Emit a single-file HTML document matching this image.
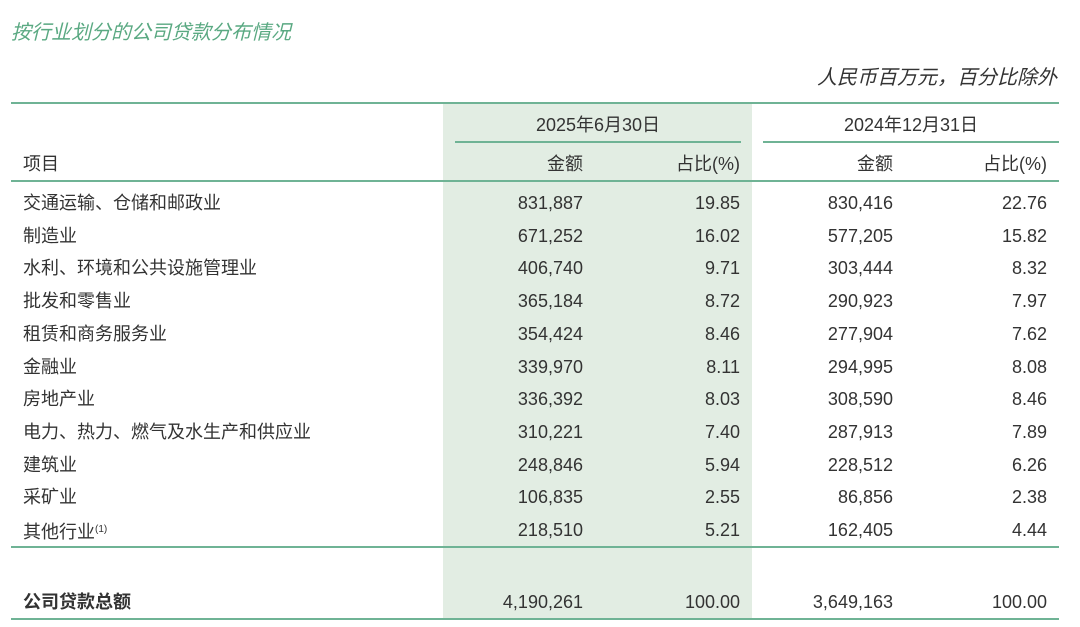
<!DOCTYPE html>
<html><head><meta charset="utf-8"><style>
body{margin:0;width:1080px;height:627px;background:#fff;position:relative;overflow:hidden;font-family:"Liberation Sans","Noto Sans CJK SC",sans-serif;color:#333;}
.a{position:absolute;white-space:nowrap;font-size:18px;line-height:20px;}
.r{text-align:right;}
.ln{position:absolute;height:2px;background:#6fb395;}
</style></head><body>
<div class="a" style="left:11px;top:22px;color:#5aa982;font-style:italic;font-size:20px;line-height:22px;">按行业划分的公司贷款分布情况</div>
<div class="a r" style="right:23px;top:67px;font-style:italic;font-size:20px;line-height:22px;">人民币百万元，百分比除外</div>
<div style="position:absolute;left:443px;top:104px;width:309px;height:516px;background:#e2ede3;"></div>
<div class="ln" style="left:11px;top:102px;width:1048px;"></div>
<div class="ln" style="left:455px;top:141px;width:286px;"></div>
<div class="ln" style="left:763px;top:141px;width:296px;"></div>
<div class="ln" style="left:11px;top:180px;width:1048px;"></div>
<div class="ln" style="left:11px;top:546px;width:1048px;"></div>
<div class="ln" style="left:11px;top:618px;width:1048px;"></div>
<div class="a" style="left:455px;width:286px;text-align:center;top:115px;">2025年6月30日</div>
<div class="a" style="left:763px;width:296px;text-align:center;top:115px;">2024年12月31日</div>
<div class="a" style="left:23px;top:154px;">项目</div>
<div class="a r" style="right:497px;top:154px;">金额</div>
<div class="a r" style="right:340px;top:154px;">占比(%)</div>
<div class="a r" style="right:187px;top:154px;">金额</div>
<div class="a r" style="right:33px;top:154px;">占比(%)</div>
<div id="rows"></div>
<script>
const names=["交通运输、仓储和邮政业","制造业","水利、环境和公共设施管理业","批发和零售业","租赁和商务服务业","金融业","房地产业","电力、热力、燃气及水生产和供应业","建筑业","采矿业","其他行业<sup style='font-size:10px;vertical-align:6px'>(1)</sup>"];
const amt25=["831,887","671,252","406,740","365,184","354,424","339,970","336,392","310,221","248,846","106,835","218,510"];
const pct25=["19.85","16.02","9.71","8.72","8.46","8.11","8.03","7.40","5.94","2.55","5.21"];
const amt24=["830,416","577,205","303,444","290,923","277,904","294,995","308,590","287,913","228,512","86,856","162,405"];
const pct24=["22.76","15.82","8.32","7.97","7.62","8.08","8.46","7.89","6.26","2.38","4.44"];
const c=document.getElementById('rows');
function cell(html,style,name){const d=document.createElement('div');d.className='a'+(style.includes('right')?' r':'');d.setAttribute('style',style);d.innerHTML=html;


c.appendChild(d);}
names.forEach((n,i)=>{const t=193+i*32.7;
cell(n,'left:23px;top:'+t+'px;','row-label');
cell(amt25[i],'right:497px;top:'+t+'px;','amount-2025');
cell(pct25[i],'right:340px;top:'+t+'px;','pct-2025');
cell(amt24[i],'right:187px;top:'+t+'px;','amount-2024');
cell(pct24[i],'right:33px;top:'+t+'px;','pct-2024');});
const t=592;
cell('<b>公司贷款总额</b>','left:23px;top:'+t+'px;','total-label');
cell('4,190,261','right:497px;top:'+t+'px;','total-amount-2025');
cell('100.00','right:340px;top:'+t+'px;','total-pct-2025');
cell('3,649,163','right:187px;top:'+t+'px;','total-amount-2024');
cell('100.00','right:33px;top:'+t+'px;','total-pct-2024');
</script>
</body></html>
